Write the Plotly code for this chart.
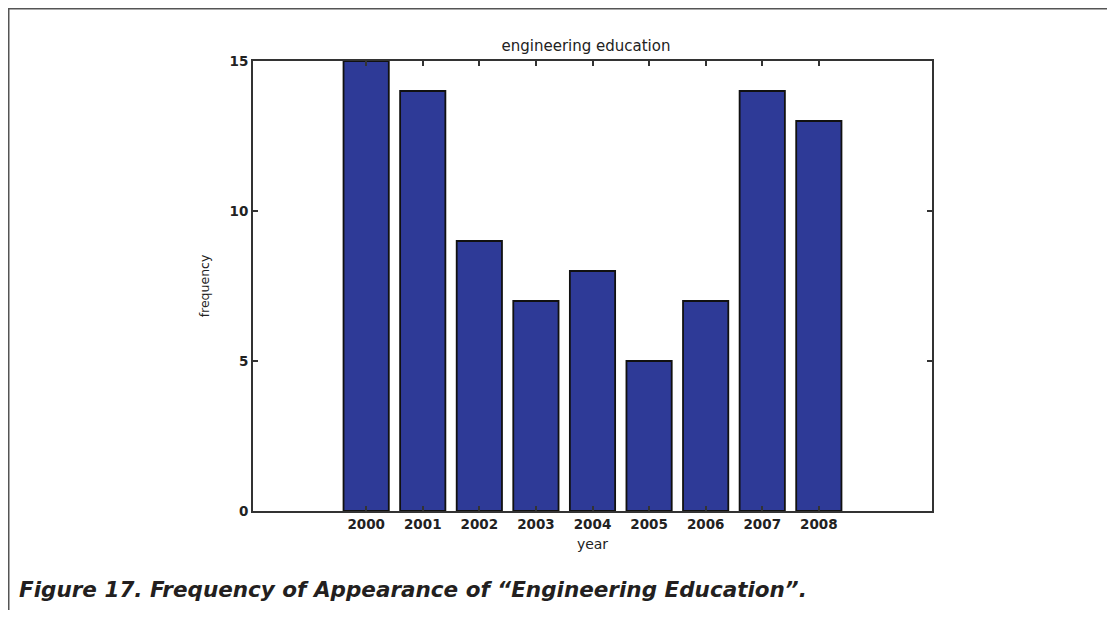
import plotly.graph_objects as go

years = [2000, 2001, 2002, 2003, 2004, 2005, 2006, 2007, 2008]
frequency = [15, 14, 9, 7, 8, 5, 7, 14, 13]
y_ticks = [0, 5, 10, 15]

OFF = 8  # page body margin
W, H = 1117 - 2 * OFF, 619 - 2 * OFF
L, R, T, B = 253, 932, 61, 511  # plot area in screenshot pixels
pw, ph = R - L, B - T

def px(x):
    return (x - L) / pw

def py(y):
    return (B - y) / ph

tickfont = dict(family="DejaVu Sans", size=13.5, color="#222222", weight="bold")

axis_common = dict(
    showline=True, linecolor="#333333", linewidth=2, mirror="ticks",
    ticks="inside", ticklen=5, tickcolor="#333333", tickwidth=2,
    showgrid=False, zeroline=False, tickfont=tickfont,
)

fig = go.Figure(go.Bar(
    x=years, y=frequency, width=0.8,
    marker=dict(color="#2e3a97", line=dict(color="#111111", width=1.8)),
))

fx0, fy0 = px(OFF + 0.75), py(OFF + 0.75)
fx1, fy1 = px(OFF + W - 2), py(OFF + H - 1)
frame_path = f"M {fx0} {fy1} L {fx0} {fy0} L {fx1} {fy0}"

fig.update_layout(
    width=W, height=H,
    margin=dict(l=L - OFF, r=(W + OFF) - R, t=T - OFF, b=(H + OFF) - B),
    paper_bgcolor="white", plot_bgcolor="white",
    showlegend=False,
    title=dict(text="engineering education", x=px(586), xanchor="center", xref="paper",
               y=1 - (46 - OFF) / H, yanchor="middle",
               font=dict(family="DejaVu Sans", size=15, color="#222222")),
    xaxis=dict(axis_common, range=[1998, 2010], tickmode="array", tickvals=years,
               ticktext=[str(y) for y in years],
               title=dict(text="year", standoff=8,
                          font=dict(family="DejaVu Sans", size=14, color="#222222"))),
    yaxis=dict(axis_common, range=[0, 15], tickmode="array", tickvals=y_ticks,
               title=dict(text="frequency", standoff=17,
                          font=dict(family="DejaVu Sans", size=12.5, color="#222222"))),
    shapes=[
        dict(type="path", xref="paper", yref="paper", path=frame_path,
             line=dict(color="#555555", width=1.5)),
    ],
    annotations=[
        dict(text="Figure 17. Frequency of Appearance of “Engineering Education”.",
             xref="paper", yref="paper", x=px(17), y=py(589), xanchor="left", yanchor="middle",
             showarrow=False,
             font=dict(family="DejaVu Sans", size=21.5, color="#231f20", weight="bold", style="italic")),
    ],
)

fig.write_html("out.html")
